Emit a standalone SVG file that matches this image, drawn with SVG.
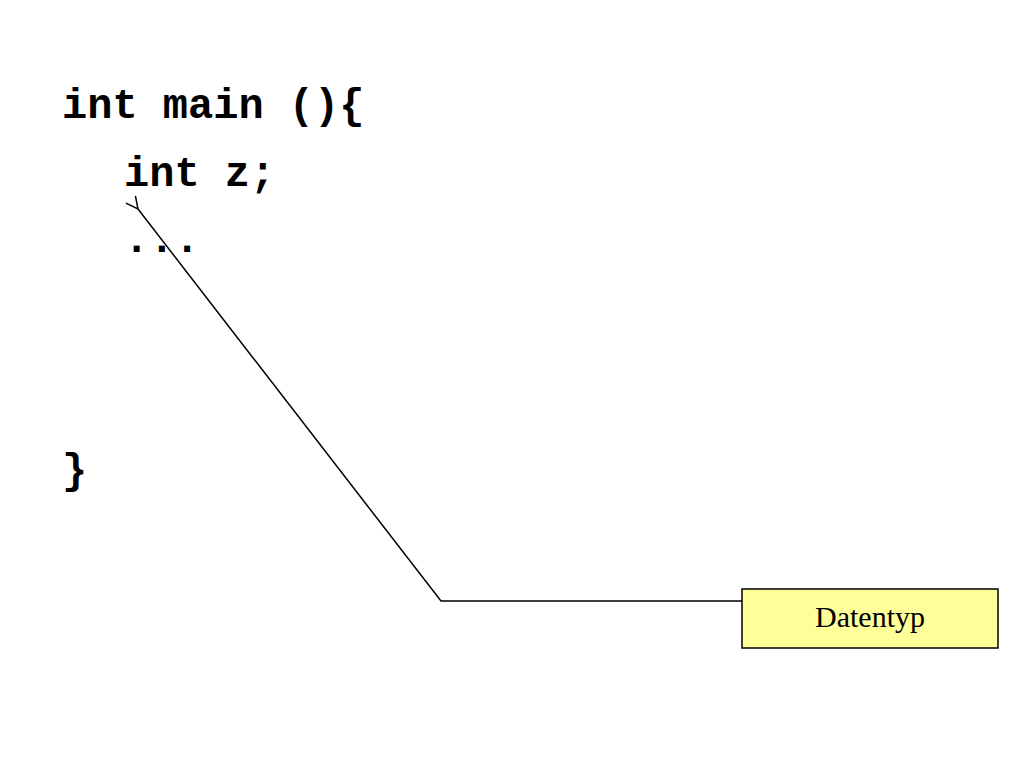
<svg xmlns="http://www.w3.org/2000/svg" width="1024" height="768" viewBox="0 0 1024 768">
<style>
.code{font-family:"Liberation Mono",monospace;font-weight:bold;font-size:42px;fill:#000}
.lbl{font-family:"Liberation Serif",serif;font-size:30px;fill:#000}
</style>
<defs><marker id="a" markerWidth="14" markerHeight="14" refX="1" refY="7" orient="auto" markerUnits="userSpaceOnUse"><path d="M13,1 L1,7 L13,13" fill="none" stroke="#000" stroke-width="1.5"/></marker></defs>
<rect width="1024" height="768" fill="#fff"/>
<g id="code">
<text class="code" x="62" y="118">int main (){</text>
<text class="code" x="124" y="186">int z;</text>
<text class="code" x="124" y="252">...</text>
<text class="code" x="62" y="483">}</text>
</g>
<g id="connectors">
<polyline points="742,601 441,601 138,209" fill="none" stroke="#000" stroke-width="1.5" marker-end="url(#a)"/>
</g>
<g id="datentyp">
<rect x="742" y="589" width="256" height="59" fill="#ffff99" stroke="#000" stroke-width="1.5"/>
<text class="lbl" x="870" y="627" text-anchor="middle">Datentyp</text>
</g>
</svg>
